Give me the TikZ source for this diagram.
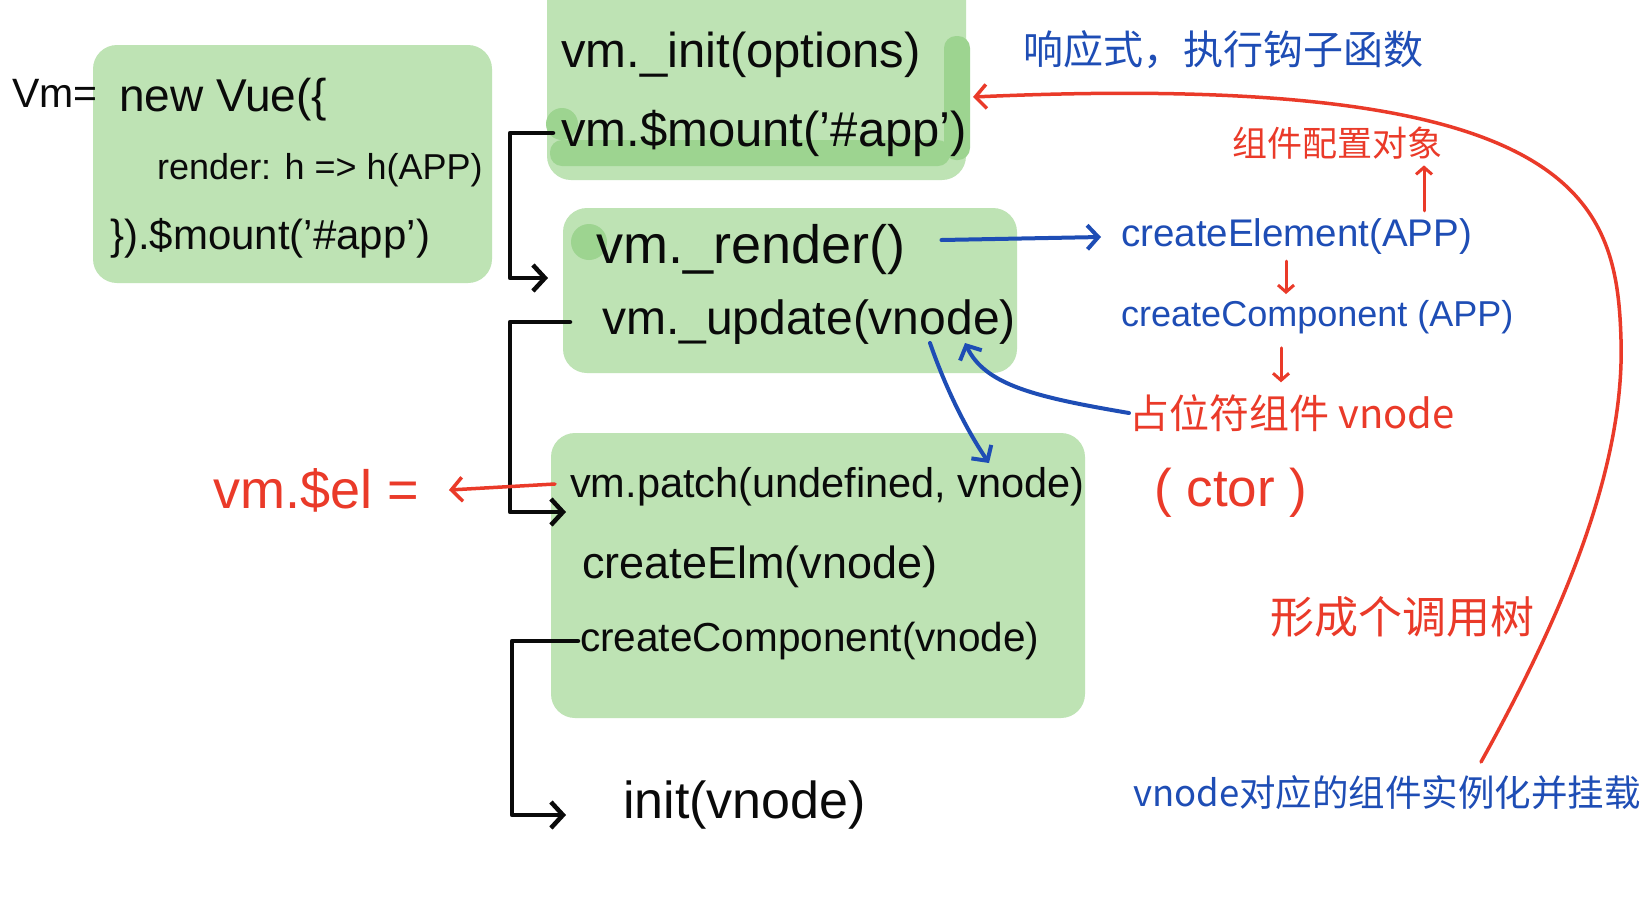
\documentclass[tikz,border=0pt]{standalone}
\usepackage{fontspec}
\setmainfont{Liberation Sans}
\newfontfamily\cjk{Noto Sans CJK SC}
\usetikzlibrary{arrows.meta}
\definecolor{gfill}{HTML}{BEE3B4}
\definecolor{gdark}{HTML}{9DD490}
\definecolor{ink}{HTML}{0A0A0A}
\definecolor{pred}{HTML}{EA3A29}
\definecolor{pblue}{HTML}{1E4DB5}
\newcommand\fsz[1]{\fontsize{#1}{#1}\selectfont}
\begin{document}
\begin{tikzpicture}[x=1pt,y=-1pt,
  gbox/.style={fill=gfill, rounded corners=24pt},
  gpatch/.style={fill=gdark, rounded corners=12pt},
  txt/.style={anchor=west, inner sep=0pt, text=ink},
  rtxt/.style={anchor=west, inner sep=0pt, text=pred},
  btxt/.style={anchor=west, inner sep=0pt, text=pblue},
  conn/.style={line width=4.5pt, line cap=round, line join=round, draw=ink,
    -{Straight Barb[length=12pt,width=26pt,line width=4.5pt]}},
  rarrow/.style={line width=3.5pt, line cap=round, line join=round, draw=pred,
    -{Straight Barb[length=11pt,width=24pt,line width=3.5pt]}},
  rsmall/.style={line width=3pt, line cap=round, draw=pred,
    -{Straight Barb[length=7pt,width=16pt,line width=3pt]}},
  barrow/.style={line width=4pt, line cap=round, line join=round, draw=pblue,
    -{Straight Barb[length=11pt,width=24pt,line width=4pt]}}
]
\useasboundingbox (0,0) rectangle (1643,898);
\fill[white] (0,0) rectangle (1643,898);

% green highlight boxes
\path[gbox] (93,45) rectangle (492,283);
\path[gbox] (547,-30) rectangle (966,180);
\path[gbox] (563,208) rectangle (1017,373);
\path[gbox] (551,433) rectangle (1085,718);
% darker overlapping strokes
\path[gpatch] (944,36) rectangle (970,160);
\path[gpatch] (550,140) rectangle (950,166);
\fill[gdark] (562,124) circle (16);
\fill[gdark] (589,242) circle (18);

% left code
\node[txt] (vmeq) at (12,93) {\fsz{41}Vm=};
\node[txt] (newvue) at (119,100) {\fsz{46}new Vue(\{};
\node[txt] (renderopt) at (157,170) {\fsz{36}render: h => h(APP)};
\node[txt] (mountcall) at (110,238) {\fsz{42}\}).\$mount('\#app')};

% central code
\node[txt] (init) at (561,55) {\fsz{49}vm.\_init(options)};
\node[txt] (mount) at (561,133) {\fsz{49}vm.\$mount('\#app')};
\node[txt] (render) at (596,250) {\fsz{54}vm.\_render()};
\node[txt] (update) at (602,322) {\fsz{48}vm.\_update(vnode)};
\node[txt] (patch) at (570,487) {\fsz{41.5}vm.patch(undefined, vnode)};
\node[txt] (celm) at (582,567) {\fsz{45}createElm(vnode)};
\node[txt] (ccomp) at (580,641) {\fsz{40.5}createComponent(vnode)};
\node[txt] (initv) at (623,805) {\fsz{52}init(vnode)};

% red / blue annotations
\node[rtxt] (el) at (213,490) {\fsz{54}vm.\$el =};
\node[btxt] (react) at (1023,50) {\cjk\fsz{40}响应式，执行钩子函数};
\node[rtxt] (cfg) at (1232,143) {\cjk\fsz{35}组件配置对象};
\node[btxt] (celem) at (1121,237) {\fsz{38.5}createElement(APP)};
\node[btxt] (ccomp2) at (1121,317) {\fsz{36}createComponent (APP)};
\node[rtxt] (place) at (1129,413) {\cjk\fsz{40}占位符组件 vnode};
\node[rtxt] (ctor) at (1154,493) {\fsz{53}( ctor )};
\node[rtxt] (tree) at (1270,617) {\cjk\fsz{44}形成个调用树};
\node[btxt] (inst) at (1133,793) {\cjk\fsz{36.5}vnode对应的组件实例化并挂载};

% black flow connectors
\coordinate (j1) at (510,278);
\coordinate (t1) at (548,278);
\draw[conn] ([xshift=-8pt]mount.west) -| (j1) -- (t1);
\coordinate (j2) at (510,512);
\coordinate (t2) at (566,512);
\draw[conn] ([xshift=-32pt]update.west) -| (j2) -- (t2);
\coordinate (j3) at (512,815);
\coordinate (t3) at (566,815);
\draw[conn] ([xshift=-2pt]ccomp.west) -| (j3) -- (t3);

% red arrow to vm.$el
\draw[rarrow] ([xshift=-15pt,yshift=3pt]patch.west) -- ([xshift=30pt]el.east);

% blue arrow render -> createElement
\draw[barrow] ([xshift=36pt,yshift=10pt]render.east) -- ([xshift=-20pt]celem.west);

% small red arrows in the right column
\coordinate (a1) at (1286,0);
\coordinate (a2) at (1281,0);
\coordinate (a3) at (1424,0);
\draw[rsmall] ([yshift=-6pt]celem.south -| a1) -- ([yshift=6pt]ccomp2.north -| a1);
\draw[rsmall] ([yshift=-14pt]ccomp2.south -| a2) -- ([yshift=12pt]place.north -| a2);
\draw[rsmall] ([yshift=8pt]celem.north -| a3) -- ([yshift=-6pt]cfg.south -| a3);

% blue arrows around vnode
\coordinate (vtip) at (965,343);
\draw[barrow] (place.west) .. controls (1035,397) and (985,385) .. (vtip);
\coordinate (vstart) at (930,343);
\coordinate (vend) at (989,463);
\draw[barrow] (vstart) .. controls (948,395) and (970,435) .. (vend);

% big red curve back to $mount
\coordinate (cstart) at (1481,762);
\coordinate (cmid) at (1621,340);
\coordinate (ctip) at (973,97);
\draw[rarrow] (cstart) .. controls (1560,620) and (1625,470) .. (cmid)
  .. controls (1617,200) and (1580,70) .. (ctip);
\end{tikzpicture}
\end{document}
